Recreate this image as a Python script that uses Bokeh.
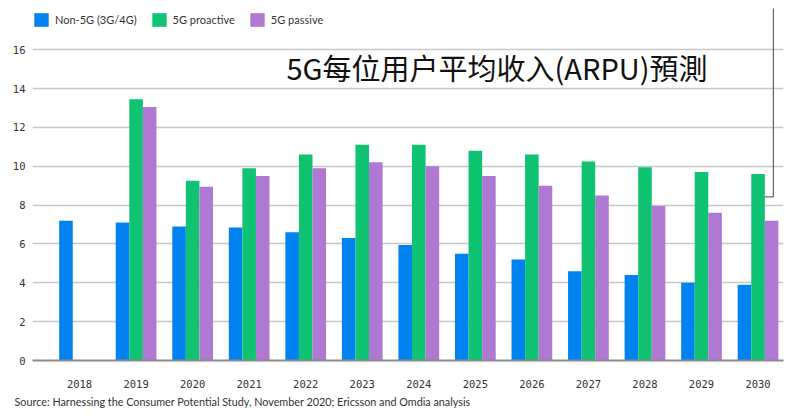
from bokeh.plotting import figure
from bokeh.models import (ColumnDataSource, FixedTicker, Legend, LegendItem, Label, Range1d, Title)
from bokeh.transform import dodge
from bokeh.embed import file_html
from bokeh.resources import INLINE

nan = float("nan")
years = ["2018", "2019", "2020", "2021", "2022", "2023", "2024", "2025", "2026", "2027", "2028", "2029", "2030"]
non_5g = [7.2, 7.1, 6.9, 6.85, 6.6, 6.3, 5.95, 5.5, 5.2, 4.6, 4.4, 4.0, 3.9]
proactive = [nan, 13.45, 9.25, 9.9, 10.6, 11.1, 11.1, 10.8, 10.6, 10.25, 9.95, 9.7, 9.6]
passive = [nan, 13.05, 8.95, 9.5, 9.9, 10.2, 10.0, 9.5, 9.0, 8.5, 7.95, 7.6, 7.2]
series_names = ["Non-5G (3G/4G)", "5G proactive", "5G passive"]
colors = ["#0082f0", "#0fc373", "#af78d2"]
y_ticks = [0, 2, 4, 6, 8, 10, 12, 14, 16]
title_text = "5G每位用户平均收入(ARPU)預測"
source_text = "Source: Harnessing the Consumer Potential Study, November 2020; Ericsson and Omdia analysis"

src = ColumnDataSource(dict(x=list(range(len(years))), non_5g=non_5g,
                            proactive=proactive, passive=passive))

p = figure(width=792, height=415, output_backend="svg", toolbar_location=None,
           x_range=Range1d(-0.832, 12.45), y_range=Range1d(0, 18.12),
           min_border_left=32, min_border_right=9, min_border_top=8,
           min_border_bottom=55, outline_line_color=None,
           background_fill_color="white", border_fill_color="white")

bw = 0.24
r1 = p.vbar(x=dodge("x", -bw, range=p.x_range), top="non_5g", width=bw, source=src,
            fill_color=colors[0], line_color=None)
r2 = p.vbar(x=dodge("x", 0, range=p.x_range), top="proactive", width=bw, source=src,
            fill_color=colors[1], line_color=None)
r3 = p.vbar(x=dodge("x", bw, range=p.x_range), top="passive", width=bw, source=src,
            fill_color=colors[2], line_color=None)

p.xaxis.ticker = FixedTicker(ticks=list(range(len(years))))
p.xaxis.major_label_overrides = {i: y for i, y in enumerate(years)}
p.xaxis.axis_line_color = "#8a8a8a"
p.xaxis.axis_line_width = 2
p.xaxis.major_tick_line_color = None
p.xaxis.minor_tick_line_color = None
p.xaxis.major_label_standoff = 13
p.xaxis.major_label_text_font = "DejaVu Sans Mono"
p.xaxis.major_label_text_font_size = "10.5px"
p.xaxis.major_label_text_color = "#333333"

p.yaxis.ticker = FixedTicker(ticks=y_ticks)
p.yaxis.axis_line_color = None
p.yaxis.major_tick_line_color = None
p.yaxis.minor_tick_line_color = None
p.yaxis.major_label_standoff = 1
p.yaxis.major_label_text_font = "DejaVu Sans Mono"
p.yaxis.major_label_text_font_size = "10.5px"
p.yaxis.major_label_text_color = "#333333"

p.xgrid.grid_line_color = None
p.ygrid.grid_line_color = "#c8c8c8"
p.ygrid.grid_line_width = 1.5

legend = Legend(items=[LegendItem(label=series_names[0], renderers=[r1]),
                       LegendItem(label=series_names[1], renderers=[r2]),
                       LegendItem(label=series_names[2], renderers=[r3])],
                orientation="horizontal", location=(0, 332),
                glyph_width=18, glyph_height=17, label_standoff=5, spacing=13,
                padding=0, margin=0, border_line_color=None,
                background_fill_alpha=0, label_text_font="Lato",
                label_text_font_size="11px", label_text_color="#333333")
p.add_layout(legend, "center")

# decorative bracket line at right
p.line(x=[12.27, 12.27, 12.12], y=[18.2, 8.42, 8.42], line_color="#444444", line_width=1)

# overlay title
p.add_layout(Label(x=3.66, y=15.11, text=title_text, text_font="Noto Sans CJK SC",
                   text_font_size="29px", text_color="#111111", text_baseline="alphabetic"))

# source note
p.add_layout(Title(text=source_text, align="left", offset=-18, standoff=4,
                   text_font="Lato", text_font_size="10.8px", text_font_style="normal",
                   text_color="#333333"), "below")

open("out.html", "w").write(file_html(p, INLINE))
